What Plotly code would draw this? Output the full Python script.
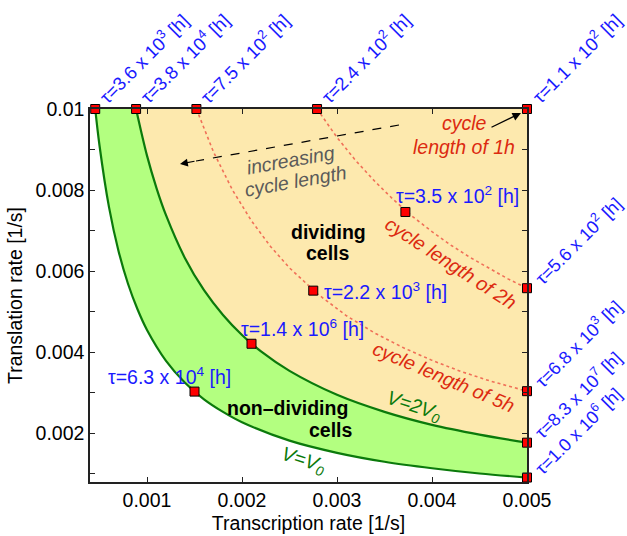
import plotly.graph_objects as go

# ---------------- data ----------------
# V = V0 boundary
v0_x = [0.000455, 0.0005, 0.0006, 0.0007, 0.0008, 0.0009, 0.001, 0.0012, 0.0014, 0.0016,
        0.0018, 0.002, 0.0025, 0.003, 0.0035, 0.004, 0.0045, 0.005]
v0_y = [0.01, 0.0091, 0.00758, 0.0065, 0.00569, 0.00506, 0.00455, 0.00379, 0.00325, 0.00284,
        0.00253, 0.002275, 0.00182, 0.00152, 0.0013, 0.00114, 0.00101, 0.00091]
# V = 2 V0 boundary
v2_x = [0.000885, 0.001, 0.0011, 0.0012, 0.0014, 0.0016, 0.0018, 0.002, 0.0022, 0.0025,
        0.003, 0.0035, 0.004, 0.0045, 0.005]
v2_y = [0.01, 0.00885, 0.00805, 0.00738, 0.00632, 0.00553, 0.00492, 0.004425, 0.00402, 0.00354,
        0.00295, 0.00253, 0.00221, 0.00197, 0.00177]
# cycle length of 2h
c2_x = [0.00279, 0.003, 0.0032, 0.0034, 0.0036, 0.0038, 0.004, 0.0042, 0.0044, 0.0046, 0.0048, 0.005]
c2_y = [0.01, 0.0093, 0.00872, 0.00821, 0.00775, 0.00734, 0.006975, 0.00664, 0.00634, 0.00607, 0.00581, 0.00558]
# cycle length of 5h
c5_x = [0.00152, 0.0017, 0.0019, 0.0021, 0.0023, 0.0025, 0.0028, 0.0031, 0.0034, 0.0037,
        0.004, 0.0043, 0.0046, 0.005]
c5_y = [0.01, 0.00894, 0.008, 0.00724, 0.00661, 0.00608, 0.00543, 0.0049, 0.00447, 0.00411,
        0.0038, 0.00353, 0.0033, 0.00304]

# sample points (tau values)
pt_x = [0.000455, 0.000885, 0.00152, 0.00279, 0.005, 0.00372, 0.00275, 0.0021, 0.0015,
        0.005, 0.005, 0.005, 0.005]
pt_y = [0.01, 0.01, 0.01, 0.01, 0.01, 0.00746, 0.00552, 0.00421, 0.00303,
        0.00558, 0.00304, 0.00177, 0.00091]
pt_mant = ["3.6", "3.8", "7.5", "2.4", "1.1", "3.5", "2.2", "1.4", "6.3",
           "5.6", "6.8", "8.3", "1.0"]
pt_exp = [3, 4, 2, 2, 2, 2, 3, 6, 4, 2, 3, 7, 6]

x_ticks = [0.001, 0.002, 0.003, 0.004, 0.005]
y_ticks = [0.002, 0.004, 0.006, 0.008, 0.01]

# ---------------- styling ----------------
FONT = "Liberation Sans, Arial, Helvetica, sans-serif"
BLUE = "#1a1aff"
RED = "#dc2a10"
DOT = "#f07058"
GREEN_LINE = "#0b7a0b"
GREEN_FILL = "#b3ff80"
ORANGE_FILL = "#fde9ae"
GRAY = "#5a5a5a"

W, H = 627, 536
L, R, T, B = 90, 100, 109, 54
PW, PH = W - L - R, H - T - B


def px(xp, yp):
    """pixel position -> paper coordinates"""
    return (xp - L) / PW, (H - B - yp) / PH


fig = go.Figure()

# orange region (dividing cells)
fig.add_trace(go.Scatter(x=v2_x + [0.005], y=v2_y + [0.01], mode="lines", fill="toself",
                         fillcolor=ORANGE_FILL, line=dict(width=0), hoverinfo="skip",
                         showlegend=False))
# green region (non-dividing cells)
fig.add_trace(go.Scatter(x=v0_x + v2_x[::-1], y=v0_y + v2_y[::-1], mode="lines", fill="toself",
                         fillcolor=GREEN_FILL, line=dict(width=0), hoverinfo="skip",
                         showlegend=False))
# cycle-length dotted lines
for cx, cy in [(c2_x, c2_y), (c5_x, c5_y)]:
    fig.add_trace(go.Scatter(x=cx, y=cy, mode="lines", line=dict(color=DOT, width=1.6, dash="dot"),
                             showlegend=False, hoverinfo="skip"))
# boundaries
for cx, cy in [(v0_x, v0_y), (v2_x, v2_y)]:
    fig.add_trace(go.Scatter(x=cx, y=cy, mode="lines", line=dict(color=GREEN_LINE, width=2.2),
                             line_shape="spline", showlegend=False, hoverinfo="skip"))
# markers
fig.add_trace(go.Scatter(x=pt_x, y=pt_y, mode="markers", cliponaxis=False,
                         marker=dict(symbol="square", size=9, color="#ff0000",
                                     line=dict(color="black", width=1)),
                         showlegend=False))

ann = []
# tau labels: (kind, xshift, yshift, size)
placement = {
    0: ("rot", 48, 51, 18.5), 1: ("rot", 48, 51, 18.5), 2: ("rot", 48, 51, 18.5),
    3: ("rot", 48, 51, 18.5), 4: ("rot", 49, 51, 18.5),
    5: ("h", 52, 17, 19.5), 6: ("h", 72, 0, 19.5), 7: ("h", 51, 16, 19.5), 8: ("h", -25, 16, 19.5),
    9: ("rot", 51, 48, 18), 10: ("rot", 51, 48, 18), 11: ("rot", 51, 48, 18), 12: ("rot", 51, 47, 18),
}
for i in range(len(pt_x)):
    kind, xs, ys, fs = placement[i]
    txt = "τ=%s x 10<sup>%d</sup> [h]" % (pt_mant[i], pt_exp[i])
    ann.append(dict(x=pt_x[i], y=pt_y[i], xref="x", yref="y", text=txt, showarrow=False,
                    xanchor="center", yanchor="middle", xshift=xs, yshift=ys,
                    textangle=-45 if kind == "rot" else 0,
                    font=dict(family=FONT, size=fs, color=BLUE)))


def text_at(xp, yp, text, size=19.5, color="black", angle=0):
    xx, yy = px(xp, yp)
    ann.append(dict(x=xx, y=yy, xref="paper", yref="paper", text=text, showarrow=False,
                    xanchor="center", yanchor="middle", textangle=angle,
                    font=dict(family=FONT, size=size, color=color)))


def arrow(tip, start, width):
    xx, yy = px(*tip)
    ann.append(dict(x=xx, y=yy, xref="paper", yref="paper", text="", showarrow=True,
                    axref="pixel", ayref="pixel", ax=start[0] - tip[0], ay=start[1] - tip[1],
                    arrowhead=2, arrowsize=1.3, arrowwidth=width, arrowcolor="black"))


text_at(328, 232, "<b>dividing</b>")
text_at(328, 253, "<b>cells</b>")
text_at(287, 408, "<b>non–dividing</b>")
text_at(331, 430, "<b>cells</b>")
text_at(464, 123, "<i>cycle</i>", color=RED)
text_at(464, 147, "<i>length of 1h</i>", color=RED)
text_at(451, 263, "<i>cycle length of 2h</i>", color=RED, angle=33)
text_at(444, 377, "<i>cycle length of 5h</i>", color=RED, angle=23)
text_at(414, 406, "<i>V=2V<sub>0</sub></i>", color=GREEN_LINE, angle=18)
text_at(303, 460, "<i>V=V<sub>0</sub></i>", color=GREEN_LINE, angle=18)
text_at(290, 160, "<i>increasing</i>", color=GRAY, angle=-10)
text_at(295, 181, "<i>cycle length</i>", color=GRAY, angle=-10)

# arrow to the 1h corner
arrow((521, 113), (490, 128), 1.3)
# dashed arrow (increasing cycle length)
d0 = px(399, 125)
d2 = px(196, 161)
fig.add_shape(type="line", xref="paper", yref="paper", x0=d0[0], y0=d0[1], x1=d2[0], y1=d2[1],
              line=dict(color="black", width=1.2, dash="dash"))
arrow((180, 164), (196, 161), 1.2)

axis_common = dict(showgrid=False, zeroline=False, showline=True, linecolor="#222",
                   linewidth=1.5, mirror="ticks", ticks="inside", ticklen=5, tickcolor="#222",
                   automargin=False,
                   tickfont=dict(family=FONT, size=19.5, color="black"))

fig.update_layout(
    width=W, height=H,
    margin=dict(l=L, r=R, t=T, b=B, autoexpand=False),
    paper_bgcolor="white", plot_bgcolor="white",
    annotations=ann,
    xaxis=dict(range=[0.0004, 0.005], tickvals=x_ticks, ticktext=[str(v) for v in x_ticks],
               title=dict(text="Transcription rate [1/s]", standoff=6,
                          font=dict(family=FONT, size=19.5, color="black")),
               **axis_common),
    yaxis=dict(range=[0.0008, 0.01], tickvals=y_ticks, ticktext=[str(v) for v in y_ticks],
               minor=dict(dtick=0.001, tick0=0, ticks="inside", ticklen=5, tickcolor="#222"),
               title=dict(text="Translation rate [1/s]", standoff=8,
                          font=dict(family=FONT, size=19.5, color="black")),
               **axis_common),
)

fig.write_html("out.html", config={"displayModeBar": False},
               post_script="document.body.style.margin='0px';document.body.style.overflow='hidden';")
